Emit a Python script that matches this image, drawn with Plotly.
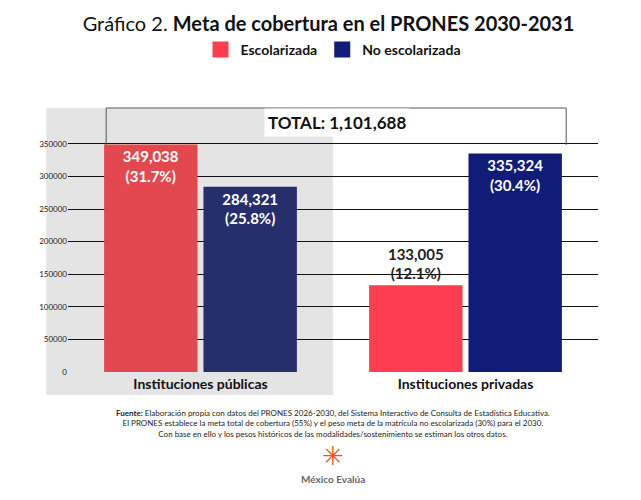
import plotly.graph_objects as go

# Data
categorias = ["Instituciones públicas", "Instituciones privadas"]
escolarizada = [349038, 133005]
no_escolarizada = [284321, 335324]
pct_esc = ["31.7%", "12.1%"]
pct_no_esc = ["25.8%", "30.4%"]
total = "1,101,688"
ticks = [0, 50000, 100000, 150000, 200000, 250000, 300000, 350000]

FONT = "Lato"

def etiquetas(vals, pcts):
    return [f"<b>{v:,}<br>({p})</b>" for v, p in zip(vals, pcts)]

fig = go.Figure()

fig.add_trace(go.Bar(
    x=categorias, y=escolarizada, name="Escolarizada", showlegend=False,
    marker=dict(color=["#e3484f", "#ff3d50"], line=dict(width=0)),
    text=etiquetas(escolarizada, pct_esc), textangle=0,
    textposition=["inside", "outside"], insidetextanchor="end",
    insidetextfont=dict(color="white", size=15, family=FONT),
    outsidetextfont=dict(color="#222", size=15, family=FONT),
    cliponaxis=False,
))
fig.add_trace(go.Bar(
    x=categorias, y=no_escolarizada, name="No escolarizada", showlegend=False,
    marker=dict(color=["#262f6c", "#101c78"], line=dict(width=0)),
    text=etiquetas(no_escolarizada, pct_no_esc), textangle=0,
    textposition="inside", insidetextanchor="end",
    textfont=dict(color="white", size=15, family=FONT),
))
# legend entries only
for nombre, color in [("<b>Escolarizada</b>", "#ff3d50"), ("<b>No escolarizada</b>", "#101c78")]:
    fig.add_trace(go.Scatter(x=[None], y=[None], name=nombre, mode="markers",
                             marker=dict(color=color, symbol="square", size=16)))

fig.update_layout(
    width=641, height=500,
    margin=dict(l=60, r=51, t=100, b=136),
    paper_bgcolor="white", plot_bgcolor="rgba(0,0,0,0)",
    font=dict(family=FONT, color="#222"),
    barmode="group", bargap=0.25, bargroupgap=0.06,
    title=dict(
        text="Gráfico 2. <b>Meta de cobertura en el PRONES 2030-2031</b>",
        x=0.5, xanchor="center", y=0.968, yanchor="middle",
        font=dict(size=20, color="#111"),
    ),
    legend=dict(orientation="h", x=0.5, xanchor="center", y=1.22, yanchor="middle",
                font=dict(size=14, color="#111"), traceorder="normal"),
    xaxis=dict(showgrid=False, zeroline=False, showline=False,
               tickfont=dict(size=14, color="#111"), ticklabelstandoff=2),
    yaxis=dict(range=[0, 405000], tickvals=ticks, tickformat="d", showgrid=True,
               gridcolor="#111", gridwidth=0.8, zeroline=False,
               tickfont=dict(size=8, color="#222"), ticks=""),
)
fig.update_xaxes(ticktext=[f"<b>{c}</b>" for c in categorias], tickvals=categorias)

# grey background for public institutions
fig.add_shape(type="rect", xref="paper", yref="paper", x0=-0.041, x1=0.5,
              y0=-0.087, y1=1.0, fillcolor="#e4e4e4", line_width=0, layer="below")

# TOTAL bracket
fig.add_shape(type="path", xref="paper", yref="paper",
              path="M 0.072,0.86 L 0.072,1.0 L 0.94,1.0 L 0.94,0.86",
              line=dict(color="#555", width=1))
fig.add_annotation(xref="paper", yref="paper", x=0.508, y=1.0, showarrow=False,
                   text=f"<b>TOTAL: {total}</b>", bgcolor="white",
                   font=dict(size=17, color="#111"), borderpad=3)

fig.add_annotation(
    xref="paper", yref="paper", x=0.5, y=-0.13, yanchor="top", showarrow=False,
    text=("<b>Fuente:</b> Elaboración propia con datos del PRONES 2026-2030, del Sistema Interactivo de Consulta de Estadística Educativa.<br>"
          "El PRONES establece la meta total de cobertura (55%) y el peso meta de la matrícula no escolarizada (30%) para el 2030.<br>"
          "Con base en ello y los pesos históricos de las modalidades/sostenimiento se estiman los otros datos."),
    font=dict(size=8, color="#222"),
)
fig.add_annotation(xref="paper", yref="paper", x=0.5, y=-0.315, yanchor="middle",
                   showarrow=False, text="✳", font=dict(size=26, color="#f4511e"))
fig.add_annotation(xref="paper", yref="paper", x=0.5, y=-0.405, yanchor="middle",
                   showarrow=False, text="<b>México Evalúa</b>",
                   font=dict(size=10, color="#666"))

fig.write_html("out.html")
